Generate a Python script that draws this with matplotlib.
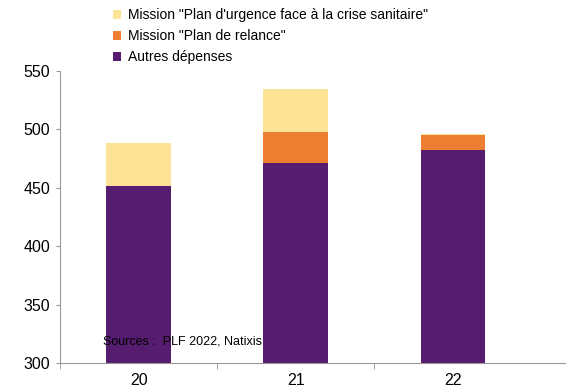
import numpy as np
import matplotlib.pyplot as plt

plt.rcParams['font.family'] = ['Liberation Sans', 'DejaVu Sans']

years = ['20', '21', '22']
autres = [451.5, 471.2, 482.4]
relance = [0, 26.6, 12.7]
urgence = [36.9, 36.8, 0.8]

c_autres = '#561C6F'
c_relance = '#ED7D31'
c_urgence = '#FDE396'

fig = plt.figure(figsize=(5.66, 3.92), dpi=100)
ax = fig.add_axes([0.106, 0.074, 0.894, 0.745])

x = np.arange(len(years))
w = 0.41
b1 = ax.bar(x, autres, w, color=c_autres, label='Autres dépenses')
b2 = ax.bar(x, relance, w, bottom=autres, color=c_relance,
            label='Mission "Plan de relance"')
bot3 = np.array(autres) + np.array(relance)
b3 = ax.bar(x, urgence, w, bottom=bot3, color=c_urgence,
            label='Mission "Plan d\'urgence face à la crise sanitaire"')

ax.set_ylim(300, 550)
ax.set_xlim(-0.5, 2.72)
ax.set_yticks(range(300, 551, 50))
ax.set_xticks(x)
ax.set_xticklabels(years)
ax.set_xticks([-0.5, 0.5, 1.5], minor=True)
ax.tick_params(axis='x', which='major', length=0, pad=7, labelsize=11.5)
ax.tick_params(axis='x', which='minor', length=4.5, color='#999999', direction='out')
ax.tick_params(axis='y', length=3, color='#999999', labelsize=11.5, pad=4)
for s in ['top', 'right']:
    ax.spines[s].set_visible(False)
for s in ['left', 'bottom']:
    ax.spines[s].set_color('#999999')

ax.text(0.085, 0.075, 'Sources :  PLF 2022, Natixis', transform=ax.transAxes,
        fontsize=9, va='center')

leg = fig.legend(handles=[b3, b2, b1], loc='upper left',
                 bbox_to_anchor=(0.185, 1.0), frameon=False, fontsize=10,
                 handlelength=0.6, handleheight=0.6, handletextpad=0.5,
                 labelspacing=0.5, borderaxespad=0.2)

fig.savefig('out.png', dpi=100)
